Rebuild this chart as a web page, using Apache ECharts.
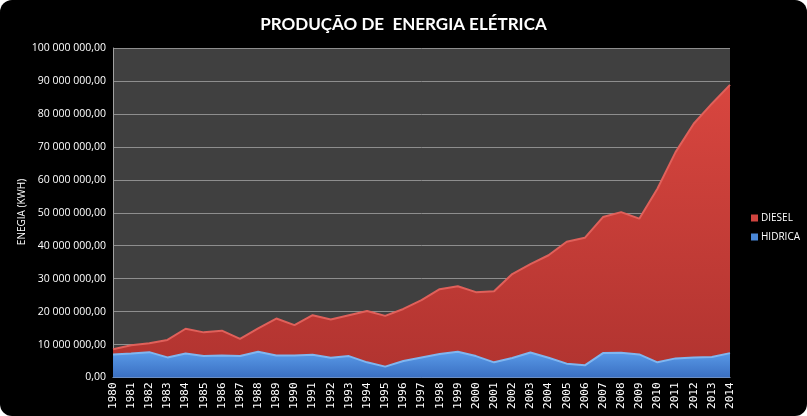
<!DOCTYPE html>
<html>
<head>
<meta charset="utf-8">
<script src="https://cdn.jsdelivr.net/npm/echarts@6/dist/echarts.min.js"></script>
<style>
html,body{margin:0;padding:0;background:#ffffff;}
#wrap{position:absolute;left:0;top:0;width:807px;height:416px;background:#000;border-radius:12px;overflow:hidden;}
#chart{width:807px;height:416px;}
</style>
</head>
<body>
<div id="wrap"><div id="chart"></div></div>
<script>
const years = ['1980','1981','1982','1983','1984','1985','1986','1987','1988','1989','1990','1991','1992','1993','1994','1995','1996','1997','1998','1999','2000','2001','2002','2003','2004','2005','2006','2007','2008','2009','2010','2011','2012','2013','2014'];
const hidrica = [7000000,7300000,7700000,6100000,7300000,6500000,6700000,6500000,7800000,6700000,6700000,6900000,6000000,6500000,4600000,3300000,5000000,6100000,7100000,7800000,6500000,4600000,5900000,7600000,6000000,4200000,3700000,7400000,7500000,7000000,4600000,5800000,6100000,6200000,7400000];
const diesel = [1600000,2500000,2700000,5300000,7500000,7200000,7500000,5200000,7100000,11200000,9200000,12000000,11600000,12400000,15600000,15400000,15800000,17400000,19700000,19900000,19400000,21600000,25500000,26800000,31100000,37000000,38700000,41300000,42700000,41200000,52700000,62600000,70900000,76900000,81400000];
const titleText = 'PRODUÇÃO DE  ENERGIA ELÉTRICA';
const yAxisTitle = 'ENEGIA (KWH)';

function fmt(v){
  const s = Math.round(v).toString().replace(/\B(?=(\d{3})+(?!\d))/g,' ');
  return s + ',00';
}

const chart = echarts.init(document.getElementById('chart'));
chart.setOption({
  backgroundColor: 'transparent',
  animation: false,
  title: {
    text: titleText, left: 'center', top: 11,
    textStyle: {color:'#ffffff', fontFamily:'Lato', fontWeight:'bold', fontSize:17}
  },
  graphic: [{
    type:'text', x:22, y:212, rotation:Math.PI/2,
    style:{text:yAxisTitle, fill:'#ffffff', font:'10px "Open Sans"', align:'center', verticalAlign:'middle'}
  }],
  legend: {
    orient: 'vertical', left: 746, top: 208, itemGap: 9,
    itemWidth: 7, itemHeight: 7, icon: 'rect',
    data: ['DIESEL','HIDRICA'],
    textStyle: {color:'#ffffff', fontFamily:'Open Sans', fontSize:10, padding:[0,0,0,-2]}
  },
  grid: {left:113, right:77, top:48, bottom:38.5, show:true, backgroundColor:'#404040', borderWidth:0},
  xAxis: {
    type:'category', data: years, boundaryGap:false,
    axisLine:{show:true, lineStyle:{color:'#9fb0c8', width:1}},
    axisTick:{show:false},
    axisLabel:{rotate:90, color:'#ffffff', fontFamily:'DejaVu Sans Mono', fontSize:11, margin:5, interval:0},
    splitLine:{show:false}
  },
  yAxis: {
    type:'value', min:0, max:100000000, interval:10000000,
    axisLine:{show:true, lineStyle:{color:'#a0a0a0', width:1}},
    axisTick:{show:false},
    axisLabel:{color:'#ffffff', fontFamily:'Open Sans', fontSize:10.5, margin:7, formatter: fmt},
    splitLine:{show:true, lineStyle:{color:'#8e8e8e', width:1}}
  },
  series: [
    {
      name:'HIDRICA', type:'line', stack:'total', data: hidrica, symbol:'none',
      itemStyle:{color:'#4a88d8'},
      lineStyle:{color:'#7fb6f0', width:2},
      areaStyle:{opacity:1, color:new echarts.graphic.LinearGradient(0,0,0,1,[{offset:0,color:'#5a9be8'},{offset:1,color:'#3a6fc2'}])}
    },
    {
      name:'DIESEL', type:'line', stack:'total', data: diesel, symbol:'none',
      itemStyle:{color:'#d0443f'},
      lineStyle:{color:'#e0605a', width:2},
      areaStyle:{opacity:1, color:new echarts.graphic.LinearGradient(0,0,0,1,[{offset:0,color:'#d8463f'},{offset:1,color:'#b23430'}])}
    }
  ]
});
</script>
</body>
</html>
